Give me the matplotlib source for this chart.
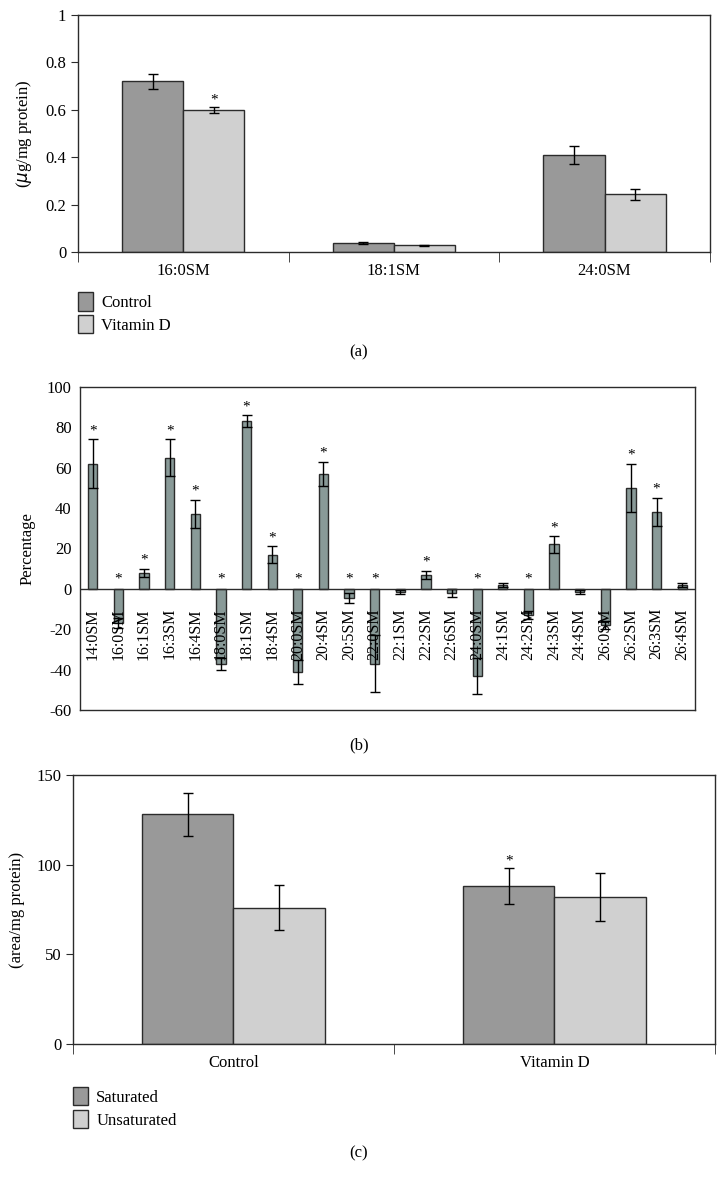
import numpy as np
import matplotlib
matplotlib.use("Agg")
import matplotlib.pyplot as plt
from matplotlib.patches import Patch

plt.rcParams['font.family'] = ['Liberation Serif', 'DejaVu Serif']

# ---- panel (a): SM species, ug/mg protein
sm_species = ['16:0SM', '18:1SM', '24:0SM']
ctrl_a = [0.72, 0.038, 0.41]
ctrl_a_err = [0.030, 0.006, 0.037]
vitd_a = [0.60, 0.028, 0.243]
vitd_a_err = [0.012, 0.002, 0.025]
vitd_a_sig = [True, False, False]

# ---- panel (b): percentage change per species
species_b = ['14:0SM', '16:0SM', '16:1SM', '16:3SM', '16:4SM', '18:0SM', '18:1SM',
             '18:4SM', '20:0SM', '20:4SM', '20:5SM', '22:0SM', '22:1SM', '22:2SM',
             '22:6SM', '24:0SM', '24:1SM', '24:2SM', '24:3SM', '24:4SM', '26:0SM',
             '26:2SM', '26:3SM', '26:4SM']
pct_b = [62, -17, 8, 65, 37, -37, 83, 17, -41, 57, -4.5, -37, -1.5, 7,
         -2, -43, 2, -13, 22, -1.5, -18, 50, 38, 2]
pct_b_err = [12, 2.5, 2, 9, 7, 3, 3, 4, 6, 6, 2.5, 14, 1, 2,
             2, 9, 1, 2, 4, 1, 2, 12, 7, 1]
sig_b = [1, 1, 1, 1, 1, 1, 1, 1, 1, 1, 1, 1, 0, 1,
         0, 1, 0, 1, 1, 0, 0, 1, 1, 0]

# ---- panel (c): saturated / unsaturated, area/mg protein
groups_c = ['Control', 'Vitamin D']
sat_c = [128, 88]
sat_c_err = [12, 10]
unsat_c = [76, 82]
unsat_c_err = [12.7, 13.6]
sat_c_sig = [False, True]

DARK = '#999999'
LIGHT = '#d0d0d0'
TEAL = '#899a98'
EDGE = '#2b2b2b'

fig = plt.figure(figsize=(7.18, 11.85), dpi=100)


def style_frame(ax):
    for s in ax.spines.values():
        s.set_color(EDGE)
        s.set_linewidth(1.0)


def grouped(ax, vals1, err1, vals2, err2, width, sig1, sig2, star_pad):
    n = len(vals1)
    x = np.arange(n) + 0.5
    ax.bar(x - width / 2, vals1, width, color=DARK, edgecolor=EDGE, linewidth=1, zorder=2)
    ax.bar(x + width / 2, vals2, width, color=LIGHT, edgecolor=EDGE, linewidth=1, zorder=2)
    ax.errorbar(x - width / 2, vals1, yerr=err1, fmt='none', ecolor='black',
                elinewidth=1, capsize=3.5, capthick=1, zorder=3)
    ax.errorbar(x + width / 2, vals2, yerr=err2, fmt='none', ecolor='black',
                elinewidth=1, capsize=3.5, capthick=1, zorder=3)
    for i in range(n):
        if sig1[i]:
            ax.text(x[i] - width / 2, vals1[i] + err1[i] + star_pad, '*',
                    ha='center', va='bottom', fontsize=11)
        if sig2[i]:
            ax.text(x[i] + width / 2, vals2[i] + err2[i] + star_pad, '*',
                    ha='center', va='bottom', fontsize=11)
    ax.set_xlim(0, n)
    ax.set_xticks(x)
    ax.tick_params(axis='x', which='major', length=0, pad=8, labelsize=12)
    ax.set_xticks(np.arange(n + 1), minor=True)
    ax.tick_params(axis='x', which='minor', length=7, direction='out', color=EDGE)
    ax.tick_params(axis='y', length=5, direction='out', labelsize=12, color=EDGE)
    style_frame(ax)


# ---------------- (a)
ax1 = fig.add_axes([0.1086, 0.7873, 0.880, 0.200])
grouped(ax1, ctrl_a, ctrl_a_err, vitd_a, vitd_a_err, 0.29,
        [False] * 3, vitd_a_sig, 0.002)
ax1.set_ylim(0, 1)
ax1.set_yticks([0, 0.2, 0.4, 0.6, 0.8, 1])
ax1.set_yticklabels(['0', '0.2', '0.4', '0.6', '0.8', '1'])
ax1.set_xticklabels(sm_species)
ax1.set_ylabel(r'($\mu$g/mg protein)', fontsize=12, labelpad=8)
ax1.legend(handles=[Patch(facecolor=DARK, edgecolor=EDGE, label='Control'),
                    Patch(facecolor=LIGHT, edgecolor=EDGE, label='Vitamin D')],
           loc='upper left', bbox_to_anchor=(0, -0.17), frameon=False,
           handlelength=0.9, handleheight=1.3, borderpad=0, borderaxespad=0,
           handletextpad=0.5, labelspacing=0.25, fontsize=12)
fig.text(0.5, 1 - 352 / 1185, '(a)', ha='center', va='center', fontsize=12)

# ---------------- (b)
ax2 = fig.add_axes([0.1114, 1 - 710 / 1185, 0.8565, 323 / 1185])
xb = np.arange(len(species_b)) + 0.5
ax2.bar(xb, pct_b, 0.36, color=TEAL, edgecolor=EDGE, linewidth=1, zorder=2)
ax2.errorbar(xb, pct_b, yerr=pct_b_err, fmt='none', ecolor='black',
             elinewidth=1, capsize=3.5, capthick=1, zorder=3)
ax2.axhline(0, color=EDGE, linewidth=1, zorder=4)
for xi, v, e, s, lab in zip(xb, pct_b, pct_b_err, sig_b, species_b):
    if s:
        ystar = v + e + 1 if v > 0 else 1.5
        ax2.text(xi, ystar, '*', ha='center', va='bottom', fontsize=11)
    ax2.text(xi, -9.5, lab, rotation=90, ha='center', va='top', fontsize=11.5, zorder=5)
ax2.set_xlim(0, len(species_b))
ax2.set_ylim(-60, 100)
ax2.set_xticks([])
ax2.set_yticks(np.arange(-60, 101, 20))
ax2.set_yticklabels([str(t) for t in range(-60, 101, 20)])
ax2.tick_params(axis='y', length=0, labelsize=12, pad=6)
ax2.set_ylabel('Percentage', fontsize=12, labelpad=8)
style_frame(ax2)
fig.text(0.5, 1 - 745 / 1185, '(b)', ha='center', va='center', fontsize=12)

# ---------------- (c)
ax3 = fig.add_axes([0.1017, 1 - 1044 / 1185, 0.894, 269 / 1185])
grouped(ax3, sat_c, sat_c_err, unsat_c, unsat_c_err, 0.285,
        sat_c_sig, [False, False], 0.5)
ax3.set_ylim(0, 150)
ax3.set_yticks([0, 50, 100, 150])
ax3.set_xticklabels(groups_c)
ax3.set_ylabel('(area/mg protein)', fontsize=12, labelpad=8)
ax3.legend(handles=[Patch(facecolor=DARK, edgecolor=EDGE, label='Saturated'),
                    Patch(facecolor=LIGHT, edgecolor=EDGE, label='Unsaturated')],
           loc='upper left', bbox_to_anchor=(0, -0.16), frameon=False,
           handlelength=0.9, handleheight=1.3, borderpad=0, borderaxespad=0,
           handletextpad=0.5, labelspacing=0.25, fontsize=12)
fig.text(0.5, 1 - 1153 / 1185, '(c)', ha='center', va='center', fontsize=12)

fig.savefig('out.png', dpi=100)
